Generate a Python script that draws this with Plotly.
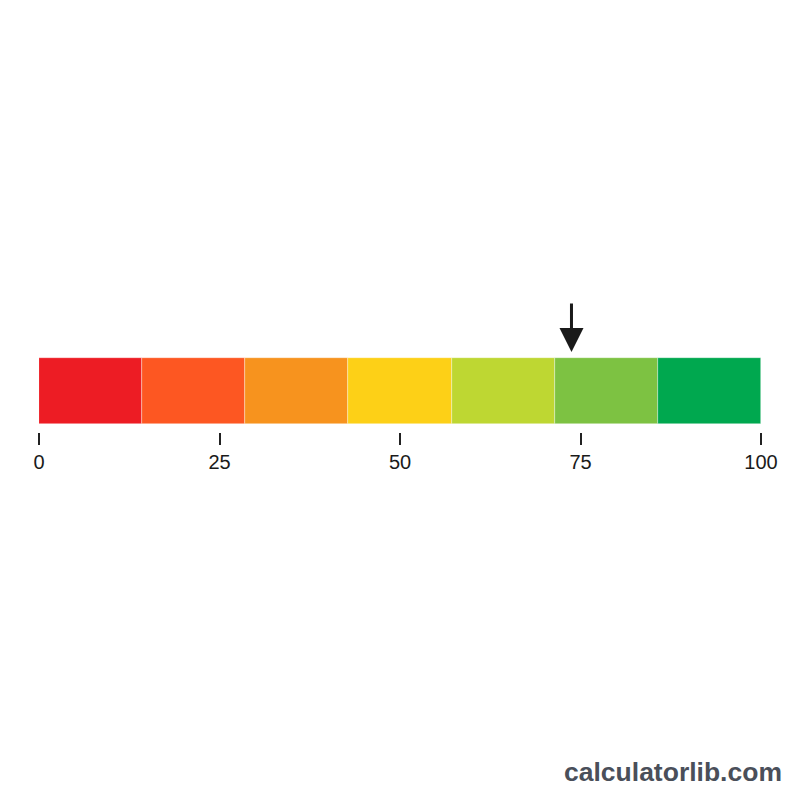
import plotly.graph_objects as go

# Data
segment_count = 7
segment_colors = ["#ED1C24", "#FD5722", "#F7931E", "#FDD017", "#BED732", "#7DC242", "#00A84F"]
segment_starts = [i * 100 / segment_count for i in range(segment_count)]
segment_widths = [100 / segment_count] * segment_count
tick_values = [0, 25, 50, 75, 100]
tick_labels = ["0", "25", "50", "75", "100"]
marker_value = 73.75

fig = go.Figure()
fig.add_trace(go.Bar(
    x=segment_widths,
    base=segment_starts,
    y=[0.289] * segment_count,
    width=0.465,
    orientation="h",
    marker=dict(color=segment_colors, line=dict(color="rgba(255,255,255,0.6)", width=0.6)),
    hoverinfo="skip",
    showlegend=False,
))

fig.add_annotation(
    x=marker_value, y=0.5634, xref="x", yref="y",
    ax=0, ay=-50, axref="pixel", ayref="pixel",
    showarrow=True, arrowhead=2, arrowsize=1.6, arrowwidth=3,
    arrowcolor="#1a1a1a", text="",
)

fig.add_annotation(
    text="calculatorlib.com", xref="paper", yref="paper",
    x=1.032, y=-2.394, xanchor="right", yanchor="middle",
    showarrow=False,
    font=dict(family="Liberation Sans, Arial, sans-serif", size=26.5, color="#4a4f5a", weight="bold"),
)

fig.update_layout(
    width=800, height=800,
    margin=dict(l=31, r=47, t=282, b=376, pad=0),
    paper_bgcolor="white", plot_bgcolor="white",
    xaxis=dict(
        range=[0, 100], tickmode="array", tickvals=tick_values, ticktext=tick_labels,
        ticks="outside", ticklen=12, tickwidth=1.5, tickcolor="#222",
        ticklabelstandoff=0,
        showgrid=False, zeroline=False, showline=False,
        tickfont=dict(family="Liberation Sans, Arial, sans-serif", size=20, color="#1a1a1a"),
        fixedrange=True,
    ),
    yaxis=dict(range=[0, 1], visible=False, fixedrange=True),
    bargap=0,
)

fig.write_html("out.html")
